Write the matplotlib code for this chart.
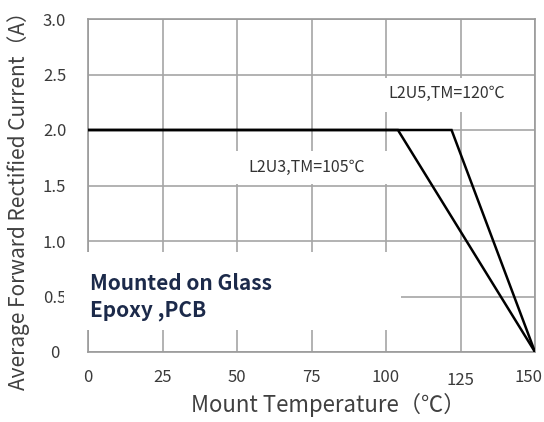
import matplotlib
matplotlib.use("Agg")
import matplotlib.pyplot as plt
from matplotlib.patches import Rectangle
from matplotlib.transforms import ScaledTranslation

# ---- data ----
x_ticks = [0, 25, 50, 75, 100, 125, 150]
y_ticks = [0, 0.5, 1.0, 1.5, 2.0, 2.5, 3.0]
y_tick_labels = ["0", "0.5", "1.0", "1.5", "2.0", "2.5", "3.0"]

temp_l2u3 = [0, 104, 150]
curr_l2u3 = [2.0, 2.0, 0.0]
temp_l2u5 = [0, 122, 150]
curr_l2u5 = [2.0, 2.0, 0.0]

label_l2u3 = "L2U3,TM=105℃"
label_l2u5 = "L2U5,TM=120℃"
note_text = "Mounted on Glass\nEpoxy ,PCB"
x_label = "Mount Temperature（℃）"
y_label = "Average Forward Rectified Current（A）"

FONTS = ["Noto Sans CJK SC", "DejaVu Sans"]
plt.rcParams["font.family"] = FONTS

fig = plt.figure(figsize=(5.44, 4.22), dpi=100)
ax = fig.add_axes([88 / 544, 1 - 352 / 422, 447 / 544, 333 / 422])

ax.set_xlim(0, 150)
ax.set_ylim(0, 3.0)
ax.set_axisbelow(True)
ax.grid(True, color="#a6a6a6", lw=1.2)
for s in ax.spines.values():
    s.set_color("#9a9a9a")
    s.set_linewidth(1.2)

ax.set_xticks(x_ticks)
ax.set_xticklabels([str(v) for v in x_ticks])
ax.set_yticks(y_ticks)
ax.set_yticklabels(y_tick_labels)
ax.tick_params(axis="both", length=0, labelsize=12, labelcolor="#3a3a3a")
ax.tick_params(axis="x", pad=12)
ax.tick_params(axis="y", pad=24)
for t in ax.get_yticklabels():
    t.set_horizontalalignment("center")

# small position quirks of the reference's x tick labels
xt = ax.get_xticklabels()
xt[-1].set_transform(xt[-1].get_transform() + ScaledTranslation(-7 / 100, 0, fig.dpi_scale_trans))
xt[-2].set_transform(xt[-2].get_transform() + ScaledTranslation(0, -3 / 100, fig.dpi_scale_trans))

ax.set_xlabel(x_label, fontsize=16, color="#404040")
ax.set_ylabel(y_label, fontsize=15, color="#404040")
ax.xaxis.set_label_coords(0.537, -0.122)
ax.yaxis.set_label_coords(-0.13, 0.47)

# white label boxes that interrupt the grid (layout only)
ax.add_patch(Rectangle((-0.054, 0.066), 0.754, 0.234, transform=ax.transAxes,
                       facecolor="white", edgecolor="none", zorder=3, clip_on=False))
ax.add_patch(Rectangle((0.27, 0.505), 0.78 - 0.27, 0.1, transform=ax.transAxes,
                       facecolor="white", edgecolor="none", zorder=3))
ax.add_patch(Rectangle((0.58, 0.72), 0.86 - 0.58, 0.104, transform=ax.transAxes,
                       facecolor="white", edgecolor="none", zorder=3))

ax.plot(temp_l2u3, curr_l2u3, color="black", lw=1.8, zorder=4, solid_joinstyle="miter")
ax.plot(temp_l2u5, curr_l2u5, color="black", lw=1.8, zorder=4, solid_joinstyle="miter")

ax.text((248 - 88) / 447, (352 - 167) / 333, label_l2u3,
        transform=ax.transAxes, fontsize=11.5,
        color="#333333", va="center", ha="left", zorder=5)
ax.text((388 - 88) / 447, (352 - 93) / 333, label_l2u5,
        transform=ax.transAxes, fontsize=11.5,
        color="#333333", va="center", ha="left", zorder=5)
ax.text(0.005, 0.165, note_text, transform=ax.transAxes, fontsize=15,
        fontweight="bold", color="#1c2a4a", va="center", ha="left",
        linespacing=1.3, zorder=5)

fig.savefig("out.png", dpi=100)
